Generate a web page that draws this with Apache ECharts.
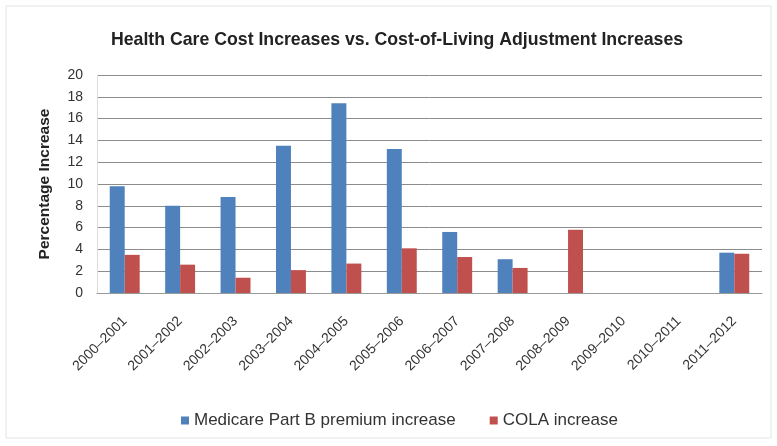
<!DOCTYPE html>
<html><head><meta charset="utf-8">
<script src="https://cdn.jsdelivr.net/npm/echarts@6/dist/echarts.min.js"></script>
<style>html,body{margin:0;padding:0;background:#fff}#c{width:777px;height:446px}</style>
</head><body><div id="c"></div>
<script>
const categories = ['2000–2001','2001–2002','2002–2003','2003–2004','2004–2005','2005–2006','2006–2007','2007–2008','2008–2009','2009–2010','2010–2011','2011–2012'];
const medicare = [9.8, 8.0, 8.8, 13.5, 17.4, 13.2, 5.6, 3.1, 0, 0, 0, 3.7];
const cola = [3.5, 2.6, 1.4, 2.1, 2.7, 4.1, 3.3, 2.3, 5.8, 0, 0, 3.6];
const yTicks = {min: 0, max: 20, interval: 2};

const chart = echarts.init(document.getElementById('c'), null, {renderer: 'canvas'});
chart.setOption({
  animation: false,
  backgroundColor: '#fff',
  graphic: [{type: 'rect', shape: {x: 6, y: 6, width: 765, height: 432}, style: {fill: 'none', stroke: '#e4e4e4', lineWidth: 1}, silent: true}],
  title: {
    text: 'Health Care Cost Increases vs. Cost-of-Living Adjustment Increases',
    left: 106, top: 26,
    textStyle: {fontFamily: 'Liberation Sans', fontSize: 17.7, fontWeight: 'bold', color: '#222'}
  },
  legend: {
    top: 407, left: 176,
    itemWidth: 8, itemHeight: 8, itemGap: 34,
    icon: 'rect',
    textStyle: {fontFamily: 'Liberation Sans', fontSize: 17, color: '#333'},
    data: ['Medicare Part B premium increase', 'COLA increase']
  },
  grid: {left: 97, right: 15, top: 75, bottom: 153},
  xAxis: {
    type: 'category',
    data: categories,
    axisLine: {lineStyle: {color: '#999'}},
    axisTick: {lineStyle: {color: '#999'}, length: 4},
    axisLabel: {rotate: 45, fontFamily: 'Liberation Sans', fontSize: 14, color: '#333', margin: 26, interval: 0}
  },
  yAxis: {
    type: 'value',
    min: yTicks.min, max: yTicks.max, interval: yTicks.interval,
    name: 'Percentage Increase',
    nameLocation: 'middle', nameGap: 44, nameRotate: 90,
    nameTextStyle: {fontFamily: 'Liberation Sans', fontSize: 15.5, fontWeight: 'bold', color: '#222'},
    axisLine: {show: true, lineStyle: {color: '#ddd'}},
    axisTick: {show: false},
    axisLabel: {fontFamily: 'Liberation Sans', fontSize: 14, color: '#333', margin: 14},
    splitLine: {lineStyle: {color: '#8c8c8c', width: 1}}
  },
  series: [
    {name: 'Medicare Part B premium increase', type: 'bar', data: medicare, itemStyle: {color: '#4F81BD'}, barGap: '0%', barCategoryGap: '46%'},
    {name: 'COLA increase', type: 'bar', data: cola, itemStyle: {color: '#C0504D'}, barGap: '0%', barCategoryGap: '46%'}
  ]
});
</script></body></html>
